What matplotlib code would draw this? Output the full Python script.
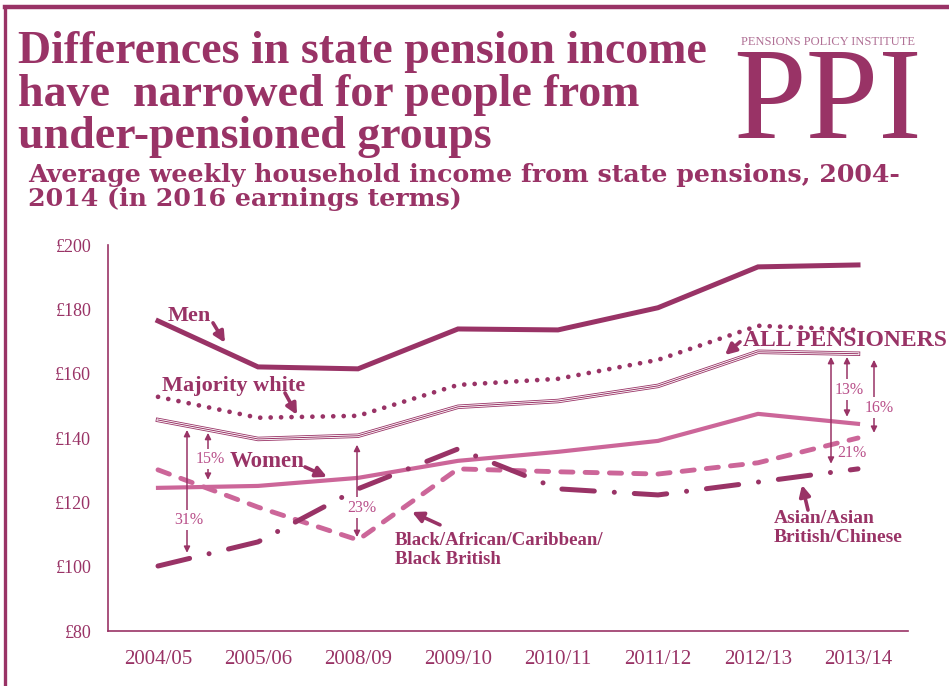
import matplotlib
matplotlib.use("Agg")
import matplotlib.pyplot as plt

years = ["2004/05", "2005/06", "2008/09", "2009/10", "2010/11", "2011/12", "2012/13", "2013/14"]
men = [176.4, 162.1, 161.5, 173.9, 173.6, 180.5, 193.2, 193.8]
all_pensioners = [145.6, 139.7, 140.7, 149.7, 151.5, 156.2, 166.8, 166.2]
majority_white = [152.8, 146.3, 146.9, 156.5, 158.4, 164.3, 174.9, 173.6]
women = [124.5, 125.1, 127.6, 132.9, 135.7, 139.1, 147.5, 144.4]
black = [130.1, 118.5, 108.3, 130.4, 129.5, 128.8, 132.3, 140.0]
asian = [100.2, 107.7, 124.2, 136.6, 124.2, 122.3, 126.3, 130.4]
yticks = [80, 100, 120, 140, 160, 180, 200]

DARK = "#993366"
PINK = "#CC6699"
PCT = "#B9508A"
SERIF = ["Liberation Serif", "DejaVu Serif"]
plt.rcParams["font.family"] = SERIF

W, H = 949, 686
fig = plt.figure(figsize=(W / 100, H / 100), dpi=100)

def fx(px):
    return px / W

def fy(py):
    return 1 - py / H

# frame
fig.add_artist(plt.Line2D([fx(5), fx(949)], [fy(7), fy(7)], color=DARK, lw=3.2))
fig.add_artist(plt.Line2D([fx(5), fx(5)], [fy(7), fy(690)], color=DARK, lw=2.4))

# titles
title_lines = ["Differences in state pension income", "have  narrowed for people from", "under-pensioned groups"]
for i, t in enumerate(title_lines):
    fig.text(fx(18), fy(63 + 42.5 * i), t, color=DARK, fontsize=33, fontweight="bold",
             va="baseline", ha="left")
sub_lines = ["Average weekly household income from state pensions, 2004-", "2014 (in 2016 earnings terms)"]
for i, t in enumerate(sub_lines):
    fig.text(fx(28), fy(182 + 24 * i), t, color=DARK, fontsize=18.2, fontweight="bold",
             family=["DejaVu Serif"], va="baseline", ha="left")

# logo
fig.text(fx(828), fy(45), "PENSIONS POLICY INSTITUTE", color="#B07095", fontsize=9,
         ha="center", va="baseline")
fig.text(fx(828), fy(138), "PPI", color=DARK, fontsize=94, ha="center", va="baseline")

ax = fig.add_axes([fx(108), fy(631), fx(908) - fx(108), fy(245) - fy(631)])
x = list(range(len(years)))

ax.plot(x, men, color=DARK, lw=3.6, solid_joinstyle="miter")
ax.plot(x, majority_white, color=DARK, lw=3.4, linestyle=(0, (0.01, 2.2)), dash_capstyle="round")
ax.plot(x, all_pensioners, color=DARK, lw=3.2)
ax.plot(x, all_pensioners, color="white", lw=2.0)
ax.plot(x, all_pensioners, color=DARK, lw=0.7)
ax.plot(x, women, color=PINK, lw=3.0)
ax.plot(x, black, color=PINK, lw=3.5, linestyle=(0, (2.5, 2.5)), dash_capstyle="round")
ax.plot(x, asian, color=DARK, lw=3.6, linestyle=(0, (6.5, 4, 0.01, 4)), dash_capstyle="round")

ax.set_xlim(-0.5, 7.5)
ax.set_ylim(80, 200)
ax.set_yticks(yticks)
ax.set_yticklabels([f"£{v}" for v in yticks])
ax.set_xticks(x)
ax.set_xticklabels(years)
ax.tick_params(axis="both", length=0, colors=DARK, labelsize=13)
ax.tick_params(axis="x", pad=14, labelsize=15)
ax.tick_params(axis="y", pad=12)
for s in ["top", "right"]:
    ax.spines[s].set_visible(False)
for s in ["left", "bottom"]:
    ax.spines[s].set_color(DARK)
    ax.spines[s].set_linewidth(1.2)

# series labels
lab = dict(color=DARK, fontsize=14, fontweight="bold", va="center", ha="left")
ax.text(0.1, 178.0, "Men", **{**lab, "fontsize": 16})
ax.text(0.04, 156.2, "Majority white", **{**lab, "fontsize": 16})
ax.text(0.72, 132.6, "Women", **{**lab, "fontsize": 16.5})
ax.text(2.37, 105.2, "Black/African/Caribbean/\nBlack British", linespacing=1.2, **{**lab, "fontsize": 13.5})
ax.text(5.85, 170.2, "ALL PENSIONERS", **{**lab, "fontsize": 17})
ax.text(6.16, 112.0, "Asian/Asian\nBritish/Chinese", linespacing=1.2, **lab)

def big_arrow(x0, y0, x1, y1):
    ax.annotate("", xy=(x1, y1), xytext=(x0, y0),
                arrowprops=dict(arrowstyle="-|>", color=DARK, lw=2.6, mutation_scale=16,
                                shrinkA=0, shrinkB=0))

big_arrow(0.55, 175.8, 0.67, 169.6)
big_arrow(1.27, 154.0, 1.39, 147.2)
big_arrow(1.47, 131.0, 1.69, 127.9)
big_arrow(2.82, 113.0, 2.54, 117.0)
big_arrow(5.82, 169.9, 5.67, 165.8)
big_arrow(6.50, 117.6, 6.44, 125.4)

def pct_arrow(xa, ytop, ybot, label, tx, ty):
    ax.annotate("", xy=(xa, ytop), xytext=(xa, ybot),
                arrowprops=dict(arrowstyle="<|-|>", color=DARK, lw=1.1, mutation_scale=9,
                                shrinkA=0, shrinkB=0))
    if label:
        ax.text(tx, ty, label, color=PCT, fontsize=11.5, ha="center", va="center",
                bbox=dict(boxstyle="square,pad=0.15", fc="white", ec="none"))

pct_arrow(0.29, 142.5, 104.3, "31%", 0.31, 114.5)
pct_arrow(0.50, 141.6, 127.0, "15%", 0.52, 133.5)
pct_arrow(1.99, 137.9, 109.2, "23%", 2.04, 118.3)
pct_arrow(6.89, 165.2, 146.6, "13%", 6.91, 155.0)
pct_arrow(6.73, 165.2, 132.0, "", 6.73, 140)
ax.text(6.94, 135.4, "21%", color=PCT, fontsize=11.5, ha="center", va="center")
pct_arrow(7.16, 164.3, 141.6, "16%", 7.21, 149.4)

fig.savefig("out.png", dpi=100)
